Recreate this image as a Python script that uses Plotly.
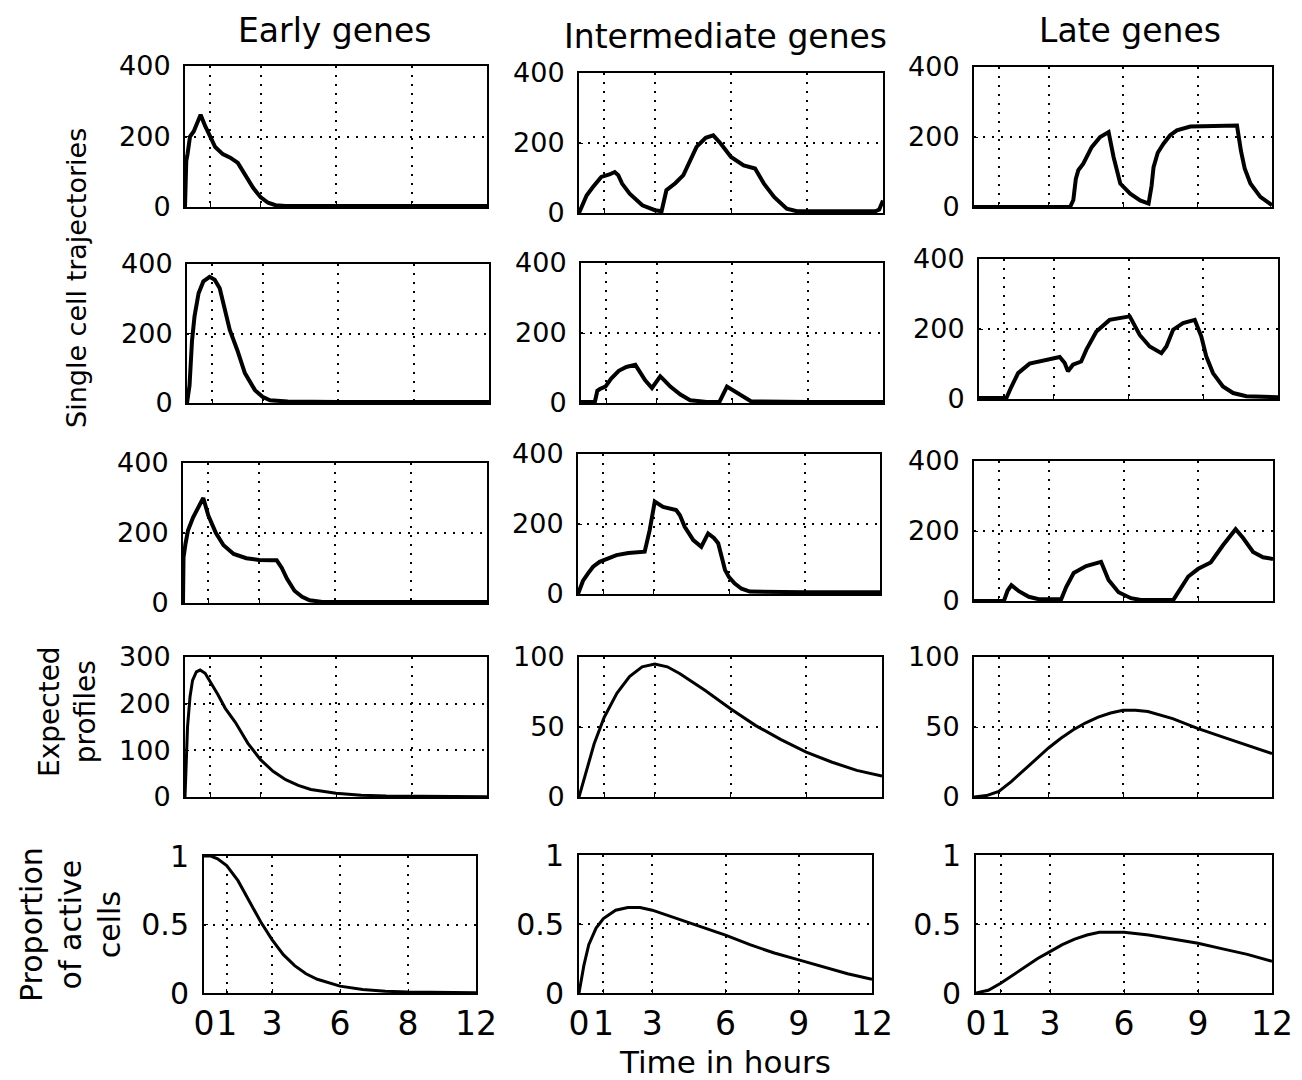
import plotly.graph_objects as go

W, H = 1302, 1080

# ---------------- data (time in hours, values) ----------------
# Single cell trajectories - Early genes
early1_t = [0, 0.05, 0.1, 0.2, 0.35, 0.5, 0.62, 0.8, 1.0, 1.2, 1.5, 1.8, 2.1, 2.3, 2.5, 2.7, 3.0, 3.3, 3.6, 4, 6, 9, 12]
early1_v = [0, 130, 150, 200, 215, 245, 262, 230, 200, 170, 150, 140, 125, 100, 80, 55, 28, 12, 5, 3, 3, 3, 3]
early2_t = [0, 0.1, 0.2, 0.3, 0.46, 0.65, 0.9, 1.1, 1.3, 1.5, 1.7, 2.0, 2.3, 2.7, 3.0, 3.3, 4, 6, 9, 12]
early2_v = [0, 50, 180, 250, 316, 350, 363, 355, 330, 270, 210, 152, 86, 37, 18, 8, 4, 3, 3, 3]
early3_t = [0, 0.02, 0.1, 0.2, 0.4, 0.6, 0.8, 1.0, 1.3, 1.6, 2.0, 2.5, 3.0, 3.5, 3.7, 3.9, 4.1, 4.4, 4.7, 5.0, 5.5, 8, 12]
early3_v = [0, 130, 170, 208, 245, 275, 300, 250, 200, 165, 140, 128, 123, 122, 122, 100, 70, 35, 18, 8, 3, 3, 3]

# Single cell trajectories - Intermediate genes
inter1_t = [0, 0.1, 0.3, 0.55, 0.88, 1.2, 1.41, 1.55, 1.7, 2.0, 2.5, 3.0, 3.26, 3.45, 3.8, 4.12, 4.4, 4.64, 5.0, 5.3, 5.6, 6.0, 6.5, 6.95, 7.3, 7.7, 8.2, 8.6, 11.7, 11.85, 12]
inter1_v = [0, 17, 50, 74, 103, 110, 117, 108, 84, 55, 22, 8, 5, 65, 85, 108, 150, 189, 215, 222, 198, 160, 136, 127, 84, 46, 12, 5, 5, 10, 36]
inter2_t = [0, 0.55, 0.65, 0.75, 0.97, 1.2, 1.5, 1.8, 2.16, 2.3, 2.55, 2.82, 3.0, 3.15, 3.35, 3.55, 3.95, 4.34, 5.0, 5.5, 5.8, 6.0, 6.4, 6.75, 9, 12]
inter2_v = [3, 3, 35, 40, 47, 70, 92, 103, 109, 92, 65, 43, 60, 76, 62, 47, 24, 8, 3, 3, 47, 38, 20, 5, 3, 3]
inter3_t = [0, 0.07, 0.2, 0.4, 0.6, 0.86, 1.2, 1.53, 2.0, 2.65, 2.85, 3.05, 3.38, 3.9, 4.05, 4.24, 4.58, 4.9, 5.17, 5.4, 5.57, 5.7, 5.84, 6.0, 6.23, 6.5, 6.83, 9, 12]
inter3_v = [0, 11, 38, 59, 78, 92, 103, 111, 117, 121, 183, 264, 249, 240, 225, 192, 154, 135, 173, 160, 145, 110, 69, 48, 30, 15, 7, 5, 5]

# Single cell trajectories - Late genes
late1_t = [0, 3.87, 4.0, 4.1, 4.2, 4.4, 4.74, 5.08, 5.42, 5.62, 5.89, 6.29, 6.69, 7.03, 7.15, 7.23, 7.4, 7.63, 7.9, 8.17, 8.71, 9.5, 10.59, 10.75, 10.9, 11.13, 11.53, 11.94, 12]
late1_v = [0, 0, 20, 80, 105, 124, 171, 200, 214, 143, 67, 38, 19, 10, 60, 114, 155, 181, 205, 219, 230, 232, 233, 160, 110, 67, 29, 8, 5]
late2_t = [0, 1.1, 1.3, 1.57, 2.03, 2.7, 3.24, 3.44, 3.57, 3.77, 4.1, 4.31, 4.71, 5.24, 6.05, 6.45, 6.85, 7.32, 7.52, 7.79, 8.19, 8.66, 8.92, 9.12, 9.39, 9.79, 10.2, 10.73, 12]
late2_v = [3, 3, 35, 74, 101, 112, 120, 103, 79, 98, 107, 141, 193, 226, 236, 183, 150, 131, 150, 198, 217, 226, 179, 122, 74, 36, 17, 8, 5]
late3_t = [0, 1.2, 1.35, 1.5, 1.8, 2.2, 2.6, 3.5, 3.7, 4.0, 4.5, 5.0, 5.1, 5.4, 5.8, 6.3, 6.7, 8.0, 8.2, 8.6, 9.0, 9.5, 10.0, 10.5, 10.8, 11.2, 11.6, 12]
late3_v = [0, 0, 30, 45, 28, 12, 5, 5, 40, 80, 100, 110, 112, 60, 25, 8, 3, 3, 25, 70, 92, 110, 160, 205, 180, 140, 125, 120]

# Expected profiles
exp_early_t = [0, 0.05, 0.1, 0.2, 0.3, 0.45, 0.6, 0.8, 1.0, 1.3, 1.6, 2.0, 2.5, 3.0, 3.5, 4.0, 4.5, 5, 6, 7, 8, 10, 12]
exp_early_v = [0, 90, 150, 215, 250, 268, 272, 265, 248, 220, 190, 160, 115, 80, 55, 37, 25, 16, 8, 4, 2, 1, 0.5]
exp_inter_t = [0, 0.3, 0.6, 1.0, 1.5, 2.0, 2.5, 3.0, 3.5, 4, 5, 6, 7, 8, 9, 10, 11, 12]
exp_inter_v = [0, 20, 38, 57, 74, 86, 93, 95, 93, 88, 76, 63, 51, 41, 32, 25, 19, 15]
exp_late_t = [0, 0.5, 1, 1.5, 2, 2.5, 3, 3.5, 4, 4.5, 5, 5.5, 6, 6.5, 7, 8, 9, 10, 11, 12]
exp_late_v = [0, 1, 4, 11, 19, 27, 35, 42, 48, 53, 57, 60, 62, 62, 61, 56, 49, 43, 37, 31]

# Proportion of active cells
prop_early_t = [0, 0.3, 0.6, 1.0, 1.5, 2.0, 2.5, 3.0, 3.5, 4.0, 4.5, 5, 6, 7, 8, 9, 10, 12]
prop_early_v = [1, 1, 0.98, 0.93, 0.82, 0.67, 0.52, 0.39, 0.28, 0.2, 0.14, 0.1, 0.05, 0.025, 0.013, 0.007, 0.004, 0.001]
prop_inter_t = [0, 0.2, 0.4, 0.7, 1.0, 1.5, 2.0, 2.5, 3.0, 3.5, 4, 5, 6, 7, 8, 9, 10, 11, 12]
prop_inter_v = [0, 0.2, 0.35, 0.47, 0.54, 0.6, 0.62, 0.62, 0.6, 0.57, 0.54, 0.48, 0.42, 0.35, 0.29, 0.24, 0.19, 0.14, 0.1]
prop_late_t = [0, 0.5, 1, 1.5, 2, 2.5, 3, 3.5, 4, 4.5, 5, 5.5, 6, 7, 8, 9, 10, 11, 12]
prop_late_v = [0, 0.02, 0.07, 0.13, 0.19, 0.25, 0.3, 0.35, 0.39, 0.42, 0.44, 0.44, 0.44, 0.42, 0.39, 0.36, 0.32, 0.28, 0.23]

# tick definitions
x_tickvals = [0, 1, 3, 6, 9, 12]
x_ticktext_early = ["0", "1", "3", "6", "8", "12"]
x_ticktext_other = ["0", "1", "3", "6", "9", "12"]
traj_ticks = [0, 200, 400]
exp_early_ticks = [0, 100, 200, 300]
exp_other_ticks = [0, 50, 100]
prop_ticks = [0, 0.5, 1]
prop_ticktext = ["0", "0.5", "1"]

col_titles = ["Early genes", "Intermediate genes", "Late genes"]

# ---------------- layout geometry (pixels) ----------------
FONT = "DejaVu Sans"
GRID_DASH = "2px,7px"

panels = [
    # (t, v, yrange, ytickvals, yticktext, xpx, ypx, row, col)
    (early1_t, early1_v, [0, 400], traj_ticks, None, (185, 487), (66, 207), 1, 0),
    (inter1_t, inter1_v, [0, 400], traj_ticks, None, (579, 883), (73, 213), 1, 1),
    (late1_t, late1_v, [0, 400], traj_ticks, None, (974, 1272), (67, 207), 1, 2),
    (early2_t, early2_v, [0, 400], traj_ticks, None, (187, 489), (264, 403), 2, 0),
    (inter2_t, inter2_v, [0, 400], traj_ticks, None, (581, 883), (263, 403), 2, 1),
    (late2_t, late2_v, [0, 400], traj_ticks, None, (979, 1278), (259, 399), 2, 2),
    (early3_t, early3_v, [0, 400], traj_ticks, None, (183, 487), (463, 603), 3, 0),
    (inter3_t, inter3_v, [0, 400], traj_ticks, None, (578, 880), (454, 594), 3, 1),
    (late3_t, late3_v, [0, 400], traj_ticks, None, (974, 1273), (461, 601), 3, 2),
    (exp_early_t, exp_early_v, [0, 300], exp_early_ticks, None, (185, 487), (657, 797), 4, 0),
    (exp_inter_t, exp_inter_v, [0, 100], exp_other_ticks, None, (579, 882), (657, 797), 4, 1),
    (exp_late_t, exp_late_v, [0, 100], exp_other_ticks, None, (974, 1272), (657, 797), 4, 2),
    (prop_early_t, prop_early_v, [0, 1], prop_ticks, prop_ticktext, (204, 476), (856, 993), 5, 0),
    (prop_inter_t, prop_inter_v, [0, 1], prop_ticks, prop_ticktext, (579, 872), (855, 993), 5, 1),
    (prop_late_t, prop_late_v, [0, 1], prop_ticks, prop_ticktext, (976, 1272), (855, 993), 5, 2),
]

fig = go.Figure()
layout = {}
for k, (t, v, yr, ytv, ytt, xpx, ypx, row, col) in enumerate(panels, start=1):
    xa = "x" if k == 1 else f"x{k}"
    ya = "y" if k == 1 else f"y{k}"
    lw = 4 if row <= 3 else 3
    fig.add_trace(go.Scatter(x=t, y=v, mode="lines", xaxis=xa, yaxis=ya,
                             line=dict(color="black", width=lw), showlegend=False,
                             hoverinfo="skip"))
    bottom = row == 5
    xdom = [xpx[0] / W, xpx[1] / W]
    ydom = [1 - ypx[1] / H, 1 - ypx[0] / H]
    xkey = "xaxis" if k == 1 else f"xaxis{k}"
    ykey = "yaxis" if k == 1 else f"yaxis{k}"
    layout[xkey] = dict(
        domain=xdom, anchor=ya, range=[0, 12], tickvals=x_tickvals,
        ticktext=(x_ticktext_early if col == 0 else x_ticktext_other),
        showticklabels=bottom, tickangle=0, automargin=False,
        tickfont=dict(family=FONT, size=33, color="black"),
        ticklabelstandoff=0,
        showline=True, linecolor="black", linewidth=2, mirror=True,
        ticks="inside", ticklen=4, tickcolor="black", tickwidth=1,
        showgrid=True, gridcolor="black", griddash=GRID_DASH, gridwidth=1.5,
        zeroline=False, fixedrange=True,
    )
    yfs = 30 if bottom else 27
    layout[ykey] = dict(
        domain=ydom, anchor=xa, range=yr, tickvals=ytv,
        ticktext=ytt if ytt else [str(x) for x in ytv],
        tickfont=dict(family=FONT, size=yfs, color="black"),
        ticklabelstandoff=7, automargin=False,
        showline=True, linecolor="black", linewidth=2, mirror=True,
        ticks="inside", ticklen=4, tickcolor="black", tickwidth=1,
        showgrid=True, gridcolor="black", griddash=GRID_DASH, gridwidth=1.5,
        zeroline=False, fixedrange=True,
    )

annotations = []
title_pos = [(335, 30), (725, 37), (1130, 30)]
for txt, (px, py) in zip(col_titles, title_pos):
    annotations.append(dict(text=txt, x=px / W, y=1 - py / H, xref="paper", yref="paper",
                            showarrow=False, xanchor="center", yanchor="middle",
                            font=dict(family=FONT, size=33, color="black")))

ylabels = [
    ("Single cell trajectories", 76, 278, 27),
    ("Expected<br>profiles", 67, 712, 28),
    ("Proportion<br>of active<br>cells", 70, 925, 30),
]
for txt, px, py, fs in ylabels:
    annotations.append(dict(text=txt, x=px / W, y=1 - py / H, xref="paper", yref="paper",
                            showarrow=False, xanchor="center", yanchor="middle", textangle=-90,
                            font=dict(family=FONT, size=fs, color="black")))

annotations.append(dict(text="Time in hours", x=725 / W, y=1 - 1062 / H, xref="paper", yref="paper",
                        showarrow=False, xanchor="center", yanchor="middle",
                        font=dict(family=FONT, size=31, color="black")))

fig.update_layout(
    width=W, height=H, margin=dict(l=0, r=0, t=0, b=0, autoexpand=False),
    paper_bgcolor="white", plot_bgcolor="white",
    annotations=annotations, **layout,
)

fig.write_html("out.html")
